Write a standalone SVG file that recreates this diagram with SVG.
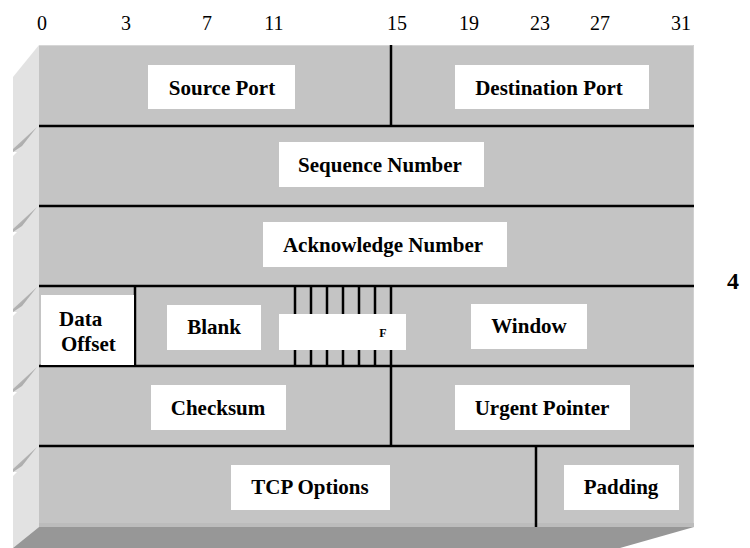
<svg xmlns="http://www.w3.org/2000/svg" width="750" height="548" viewBox="0 0 750 548">
  <style>
    text { font-family: 'Liberation Serif', 'Times New Roman', serif; fill: #000; text-anchor: middle; }
    .num { font-size: 20px; }
    .lbl { font-size: 21px; font-weight: bold; }
    .box { fill: #fff; }
    .rule { stroke: #000; stroke-width: 2.5; fill: none; }
    .flag { stroke: #000; stroke-width: 2.5; }
  </style>
  <defs>
    <linearGradient id="crease" x1="0" y1="0" x2="1" y2="1">
      <stop offset="0" stop-color="#d0d0d0"/>
      <stop offset="1" stop-color="#909090"/>
    </linearGradient>
    <g id="notch">
      <polygon points="37,0 13,22 13,25 22,19" fill="url(#crease)"/>
      <polygon points="13,25 17,25 13,29" fill="#ffffff"/>
    </g>
  </defs>
  <rect width="750" height="548" fill="#ffffff"/>

  <!-- bit positions -->
  <g id="bit-scale">
    <text class="num" x="42" y="30">0</text>
    <text class="num" x="126" y="30">3</text>
    <text class="num" x="207" y="30">7</text>
    <text class="num" x="274" y="30">11</text>
    <text class="num" x="397" y="30">15</text>
    <text class="num" x="469" y="30">19</text>
    <text class="num" x="540" y="30">23</text>
    <text class="num" x="600" y="30">27</text>
    <text class="num" x="681" y="30">31</text>
  </g>

  <!-- block body with bevelled left side and base -->
  <g id="block">
    <polygon points="13,77 39,45 39,527 13,548" fill="#e2e2e2"/>
    <polygon points="13,548 39,527 694,527 620,548" fill="#979797"/>
    <rect x="39" y="45" width="655" height="482" fill="#c4c4c4"/>
    <line x1="39" y1="45.5" x2="694" y2="45.5" stroke="#d6d6d6" stroke-width="1"/>
    <line x1="693.5" y1="45" x2="693.5" y2="527" stroke="#d0d0d0" stroke-width="1"/>
    <rect x="39" y="523" width="655" height="4" fill="#bcbcbc"/>
    <use href="#notch" y="127"/>
    <use href="#notch" y="207"/>
    <use href="#notch" y="287"/>
    <use href="#notch" y="367"/>
    <use href="#notch" y="447"/>
  </g>

  <!-- field dividers -->
  <g id="connectors">
    <line class="rule" x1="39" y1="126" x2="694" y2="126"/>
    <line class="rule" x1="39" y1="206" x2="694" y2="206"/>
    <line class="rule" x1="39" y1="286" x2="694" y2="286"/>
    <line class="rule" x1="39" y1="366" x2="694" y2="366"/>
    <line class="rule" x1="39" y1="446" x2="694" y2="446"/>
    <line class="rule" x1="391" y1="45" x2="391" y2="126"/>
    <line class="rule" x1="135" y1="286" x2="135" y2="366"/>
    <line class="flag" x1="295" y1="286" x2="295" y2="366"/>
    <line class="flag" x1="311" y1="286" x2="311" y2="366"/>
    <line class="flag" x1="327" y1="286" x2="327" y2="366"/>
    <line class="flag" x1="343" y1="286" x2="343" y2="366"/>
    <line class="flag" x1="359" y1="286" x2="359" y2="366"/>
    <line class="flag" x1="375" y1="286" x2="375" y2="366"/>
    <line class="flag" x1="391" y1="286" x2="391" y2="446"/>
    <line class="rule" x1="536" y1="446" x2="536" y2="527"/>
  </g>

  <g id="source-port">
    <rect class="box" x="148" y="65" width="147" height="44"/>
    <text class="lbl" x="222" y="95">Source Port</text>
  </g>
  <g id="destination-port">
    <rect class="box" x="455" y="65" width="194" height="44"/>
    <text class="lbl" x="549" y="95">Destination Port</text>
  </g>
  <g id="sequence-number">
    <rect class="box" x="279" y="142" width="205" height="45"/>
    <text class="lbl" x="380" y="172">Sequence Number</text>
  </g>
  <g id="acknowledge-number">
    <rect class="box" x="263" y="222" width="244" height="45"/>
    <text class="lbl" x="383" y="252">Acknowledge Number</text>
  </g>
  <g id="data-offset">
    <rect class="box" x="41" y="295" width="93" height="70"/>
    <text class="lbl" x="59" y="326" style="text-anchor:start">Data</text>
    <text class="lbl" x="61" y="351" style="text-anchor:start">Offset</text>
  </g>
  <g id="blank">
    <rect class="box" x="167" y="305" width="94" height="45"/>
    <text class="lbl" x="214" y="334">Blank</text>
  </g>
  <g id="flags">
    <rect class="box" x="279" y="314" width="127" height="36"/>
    <text class="lbl" x="383" y="337" style="font-size:12px">F</text>
  </g>
  <g id="window">
    <rect class="box" x="471" y="304" width="116" height="45"/>
    <text class="lbl" x="529" y="333">Window</text>
  </g>
  <g id="checksum">
    <rect class="box" x="151" y="385" width="135" height="45"/>
    <text class="lbl" x="218" y="415">Checksum</text>
  </g>
  <g id="urgent-pointer">
    <rect class="box" x="455" y="385" width="175" height="45"/>
    <text class="lbl" x="542" y="415">Urgent Pointer</text>
  </g>
  <g id="tcp-options">
    <rect class="box" x="231" y="465" width="159" height="45"/>
    <text class="lbl" x="310" y="494">TCP Options</text>
  </g>
  <g id="padding">
    <rect class="box" x="564" y="465" width="115" height="45"/>
    <text class="lbl" x="621" y="494">Padding</text>
  </g>

  <text id="row-count" class="lbl" x="733" y="289" style="font-size:24px">4</text>
</svg>
